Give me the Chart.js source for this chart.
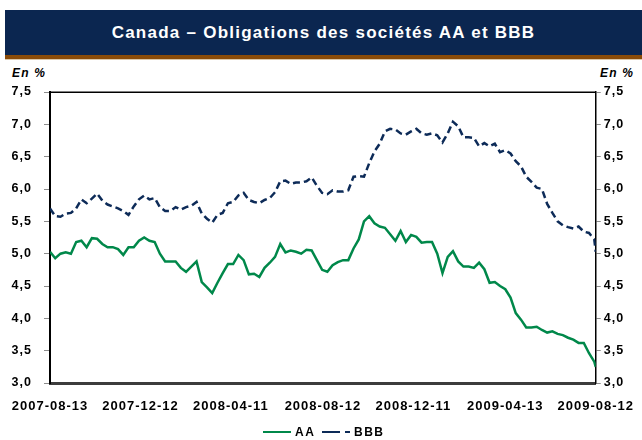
<!DOCTYPE html>
<html><head><meta charset="utf-8">
<script src="https://cdn.jsdelivr.net/npm/chart.js@4"></script>
<style>
html,body{margin:0;padding:0;background:#fff;}
#wrap{position:relative;width:642px;height:440px;overflow:hidden;font-family:"Liberation Sans",Arial,sans-serif;}
#band{position:absolute;left:5px;top:10px;width:637px;height:45px;background:#0b2650;color:#fff;font-weight:bold;font-size:17px;letter-spacing:1.25px;text-align:center;line-height:45px;}
#stripe{position:absolute;left:5px;top:55px;width:637px;height:4px;background:#8a4b08;}
#stripe2{position:absolute;left:5px;top:59px;width:637px;height:1px;background:#dcc8aa;}
.unit{position:absolute;top:66px;font-weight:bold;font-style:italic;font-size:12px;letter-spacing:1.2px;color:#000;}
canvas{position:absolute;left:0;top:0;}
#legend{position:absolute;top:424px;left:0;width:642px;height:16px;font-weight:bold;font-size:12px;letter-spacing:1.5px;}
#legend span{position:absolute;top:0;line-height:16px;}
.ln{position:absolute;top:7px;height:2px;}
</style></head>
<body><div id="wrap">
<div id="band">Canada – Obligations des sociétés AA et BBB</div>
<div id="stripe"></div><div id="stripe2"></div>
<div class="unit" style="left:12px">En %</div>
<div class="unit" style="left:600px">En %</div>
<canvas id="c" width="642" height="440"></canvas>
<div id="legend">
  <div class="ln" style="left:263px;width:28px;background:#00884a"></div>
  <span style="left:295px">AA</span>
  <div class="ln" style="left:322px;width:18px;background:#0d2b58"></div>
  <div class="ln" style="left:345px;width:5px;background:#0d2b58"></div>
  <span style="left:354px">BBB</span>
</div>
</div>
<script>
const dates = ['2007-08-13','2007-08-20','2007-08-27','2007-09-03','2007-09-10','2007-09-17','2007-09-24','2007-10-01','2007-10-08','2007-10-15','2007-10-22','2007-10-29','2007-11-05','2007-11-12','2007-11-19','2007-11-26','2007-12-03','2007-12-10','2007-12-17','2007-12-24','2007-12-31',
'2008-01-07','2008-01-14','2008-01-21','2008-01-28','2008-02-04','2008-02-11','2008-02-18','2008-02-25','2008-03-03','2008-03-10','2008-03-17','2008-03-24','2008-03-31','2008-04-07','2008-04-14','2008-04-21','2008-04-28','2008-05-05','2008-05-12','2008-05-19','2008-05-26','2008-06-02','2008-06-09','2008-06-16','2008-06-23','2008-06-30','2008-07-07','2008-07-14','2008-07-21','2008-07-28','2008-08-04','2008-08-11','2008-08-18','2008-08-25','2008-09-01','2008-09-08','2008-09-15','2008-09-22','2008-09-29','2008-10-06','2008-10-13','2008-10-20','2008-10-27','2008-11-03','2008-11-10','2008-11-17','2008-11-24','2008-12-01','2008-12-08','2008-12-15','2008-12-22','2008-12-29',
'2009-01-05','2009-01-12','2009-01-19','2009-01-26','2009-02-02','2009-02-09','2009-02-16','2009-02-23','2009-03-02','2009-03-09','2009-03-16','2009-03-23','2009-03-30','2009-04-06','2009-04-13','2009-04-20','2009-04-27','2009-05-04','2009-05-11','2009-05-18','2009-05-25','2009-06-01','2009-06-08','2009-06-15','2009-06-22','2009-06-29','2009-07-06','2009-07-13','2009-07-20','2009-07-27','2009-08-03','2009-08-10','2009-08-12'];

const aaValues = [5.03,4.93,5.00,5.02,5.00,5.18,5.20,5.10,5.24,5.23,
5.15,5.10,5.10,5.07,4.98,5.10,5.10,5.20,5.25,5.20,
5.18,5.00,4.88,4.88,4.88,4.78,4.72,4.80,4.88,4.56,
4.48,4.39,4.55,4.70,4.84,4.84,4.98,4.90,4.68,4.69,
4.64,4.78,4.86,4.95,5.15,5.02,5.05,5.03,5.00,5.06,
5.05,4.90,4.75,4.72,4.82,4.87,4.90,4.90,5.08,5.22,
5.50,5.58,5.47,5.42,5.40,5.30,5.20,5.35,5.18,5.29,
5.26,5.17,5.18,5.18,5.00,4.70,4.95,5.04,4.88,4.80,
4.80,4.78,4.86,4.76,4.55,4.56,4.50,4.45,4.32,4.08,
3.98,3.86,3.86,3.87,3.82,3.78,3.80,3.76,3.74,3.70,
3.67,3.62,3.62,3.46,3.33,3.25];

const bbbValues = [5.70,5.58,5.57,5.62,5.63,5.70,5.84,5.78,5.85,5.93,
5.82,5.76,5.73,5.70,5.66,5.60,5.73,5.84,5.90,5.84,
5.86,5.72,5.66,5.66,5.72,5.68,5.72,5.74,5.80,5.62,
5.54,5.48,5.60,5.63,5.78,5.80,5.90,5.94,5.83,5.80,
5.78,5.83,5.86,5.95,6.12,6.13,6.08,6.10,6.10,6.12,
6.18,6.05,5.94,5.92,5.98,5.96,5.96,5.98,6.19,6.20,
6.19,6.40,6.58,6.70,6.89,6.93,6.92,6.86,6.84,6.89,
6.93,6.86,6.84,6.86,6.83,6.72,6.86,7.04,6.97,6.80,
6.80,6.79,6.66,6.71,6.66,6.70,6.57,6.60,6.55,6.43,
6.35,6.19,6.11,6.02,6.00,5.77,5.63,5.50,5.44,5.41,
5.39,5.42,5.34,5.32,5.22,5.03];

const tickDates = ['2007-08-13','2007-12-12','2008-04-11','2008-08-12','2008-12-11','2009-04-13','2009-08-12'];
const seriesNames = ['AA','BBB'];

const t0 = Date.parse(dates[0] + 'T00:00:00Z');
const dayOf = s => (Date.parse(s + 'T00:00:00Z') - t0) / 86400000;
const toPts = vals => vals.map((v, i) => ({x: dayOf(dates[i]), y: v}));

const xFont = {family: '"Liberation Sans", Arial, sans-serif', size: 13, weight: 'bold'};
const yFont = {family: '"Liberation Sans", Arial, sans-serif', size: 12.5, weight: 'bold'};

const spacing = {
  id: 'spacing',
  beforeUpdate(c){ c.ctx.letterSpacing = '1px'; },
  beforeLayout(c){ c.ctx.letterSpacing = '1px'; },
  beforeDraw(c){ c.ctx.letterSpacing = '1px'; },
  afterDraw(c){
    const a = c.chartArea, ctx = c.ctx;
    ctx.save();
    ctx.strokeStyle = '#000'; ctx.lineWidth = 1.5;
    ctx.beginPath(); ctx.moveTo(a.left - 1, a.top + 0.25); ctx.lineTo(a.right, a.top + 0.25); ctx.stroke();
    ctx.restore();
  }
};

new Chart(document.getElementById('c'), {
  type: 'line',
  data: {
    datasets: [
      {label: seriesNames[0], data: toPts(aaValues), borderColor: '#00884a', borderWidth: 2.5, pointRadius: 0, tension: 0, yAxisID: 'y'},
      {label: seriesNames[1], data: toPts(bbbValues), borderColor: '#0d2b58', borderWidth: 2.5, borderDash: [7, 4], pointRadius: 0, tension: 0, yAxisID: 'y'}
    ]
  },
  options: {
    responsive: false,
    animation: false,
    events: [],
    layout: {padding: {top: 92, bottom: 27, left: 0, right: 0}},
    plugins: {legend: {display: false}, tooltip: {enabled: false}},
    scales: {
      x: {
        type: 'linear', min: 0, max: dayOf(tickDates[tickDates.length - 1]),
        afterBuildTicks: s => { s.ticks = tickDates.map(d => ({value: dayOf(d)})); },
        afterFit: s => { s.height = 30; },
        grid: {display: false},
        border: {display: true, color: '#3c3c3c', width: 3},
        ticks: {autoSkip: false, maxRotation: 0, padding: 8, color: '#000', font: xFont,
          callback: (v, i) => tickDates[i]}
      },
      y: {
        position: 'left', min: 3, max: 7.5,
        afterFit: s => { s.width = 50; },
        grid: {display: true, drawOnChartArea: false, drawTicks: true, tickLength: 6, color: '#8c8c8c', lineWidth: 1},
        border: {display: true, color: '#000', width: 2},
        ticks: {stepSize: 0.5, padding: 12, color: '#000', font: yFont,
          callback: v => v.toFixed(1).replace('.', ',')}
      },
      y2: {
        position: 'right', min: 3, max: 7.5,
        afterFit: s => { s.width = 43; },
        grid: {display: true, drawOnChartArea: false, drawTicks: true, tickLength: 5, color: '#8c8c8c', lineWidth: 1},
        border: {display: true, color: '#000', width: 1.5},
        ticks: {stepSize: 0.5, padding: 3, color: '#000', font: yFont,
          callback: v => v.toFixed(1).replace('.', ',')}
      }
    }
  },
  plugins: [spacing]
});
</script>
</body></html>
